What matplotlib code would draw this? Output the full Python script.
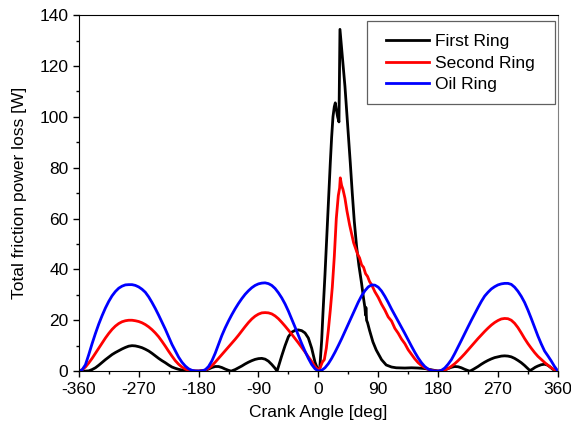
import matplotlib.pyplot as plt
from matplotlib.patches import Rectangle

plt.rcParams['font.family'] = ['Liberation Sans', 'DejaVu Sans']

# First ring (black)
first_angle = [-360, -350, -345, -340, -335, -330, -325, -320, -315, -310, -305, -300, -295, -290,
               -285, -280, -275, -270, -265, -260, -255, -250, -245, -240, -235, -230, -225, -220,
               -215, -210, -205, -200, -190, -180, -170, -165, -160, -155, -150, -145, -140, -135,
               -131, -125, -120, -115, -110, -105, -100, -95, -90, -85, -80, -75, -70, -65, -62,
               -58, -55, -50, -45, -40, -35, -30, -25, -20, -15, -10, -5, 0,
               2, 5, 7, 10, 12, 14, 16, 18, 20, 22, 24, 25.5, 27, 29, 31, 32.5,
               34, 36, 40, 44, 48, 51, 54, 57.5, 61, 65, 68, 70, 71, 71.5, 72.5, 74, 77, 82, 87,
               95, 102, 110, 117, 130, 140, 150, 160, 170, 180,
               185, 190, 195, 200, 205, 210, 215, 220, 225, 228, 233, 240, 245, 250, 255, 260, 265,
               270, 275, 280, 285, 290, 295, 300, 305, 310, 314, 318, 322, 326, 330, 335, 340, 344,
               348, 352, 355, 360]
first_power = [0, 0, 0.1, 0.6, 1.3, 2.3, 3.4, 4.5, 5.5, 6.5, 7.3, 8.0, 8.7, 9.3,
               9.8, 10.0, 9.9, 9.6, 9.2, 8.6, 7.9, 7.0, 6.0, 5.0, 4.1, 3.3, 2.4, 1.6,
               1.1, 0.7, 0.4, 0.2, 0, 0, 0.3, 0.8, 1.4, 1.8, 1.8, 1.4, 0.8, 0.3,
               0, 0.6, 1.3, 2.0, 2.8, 3.5, 4.1, 4.6, 4.9, 5.0, 4.7, 3.9, 2.6, 1.1, 0,
               3.5, 6.0, 10.0, 13.5, 15.3, 16.0, 16.2, 15.9, 15.0, 13.0, 9.0, 3.5, 0,
               0.5, 12, 23, 38, 49, 60, 71, 82, 92, 100, 104, 105.5, 103, 100, 98, 134.4,
               130, 124, 112, 97, 82, 70, 59, 49, 41.5, 34.5, 28.5, 25, 22, 25, 20, 19, 16, 11.5, 8.3,
               4.5, 2.4, 1.6, 1.3, 1.2, 1.3, 1.2, 1.0, 0.5, 0,
               0.1, 0.5, 1.0, 1.5, 1.8, 1.7, 1.3, 0.7, 0.2, 0, 0.7, 1.8, 2.7, 3.5, 4.2, 4.8, 5.3,
               5.6, 5.9, 6.0, 5.9, 5.6, 5.0, 4.2, 3.3, 2.2, 1.2, 0.2, 0.8, 1.5, 2.0, 2.5, 2.7, 2.4,
               1.7, 0.8, 0.3, 0]

# Second ring (red)
second_angle = [-360, -355, -350, -345, -340, -335, -330, -325, -320, -315, -310, -305, -300, -295,
                -290, -285, -280, -275, -270, -265, -260, -255, -250, -245, -240, -235, -230, -225,
                -220, -215, -210, -205, -200, -195, -190, -180,
                -175, -170, -165, -160, -155, -150, -145, -140, -135, -130, -125, -120, -115, -110,
                -105, -100, -95, -90, -85, -80, -75, -70, -65, -60, -55, -50, -45, -40, -35, -30,
                -25, -20, -15, -10, -5, 0,
                3, 6, 9, 12, 15, 18, 21, 24, 27, 30,
                32, 33, 35, 37, 40, 43, 47, 50, 53, 56, 59, 62, 65, 68, 71, 74, 77, 80, 85, 90, 95,
                100, 105, 110, 115, 120, 125, 130, 135, 140, 145, 150, 155, 160, 165, 170, 175, 180,
                185, 190, 195, 200, 205, 210, 215, 220, 225, 230, 235, 240, 245, 250, 255, 260, 265,
                270, 275, 280, 285, 290, 295, 300, 305, 310, 315, 320, 325, 330, 335, 340, 345, 350,
                355, 360]
second_power = [0, 0.5, 1.6, 3.2, 5.0, 7.0, 9.0, 11.0, 13.0, 14.8, 16.4, 17.7, 18.7, 19.4,
                19.8, 20.0, 20.0, 19.8, 19.5, 19.0, 18.3, 17.4, 16.3, 15.0, 13.5, 11.7, 9.8, 7.8,
                5.9, 4.1, 2.7, 1.6, 0.8, 0.3, 0.1, 0,
                0.1, 0.4, 1.1, 2.1, 3.5, 5.0, 6.5, 8.0, 9.5, 11.0, 12.5, 14.1, 15.8, 17.5,
                19.1, 20.5, 21.6, 22.4, 22.9, 23.0, 22.9, 22.5, 21.7, 20.6, 19.2, 17.7, 16.1, 14.5, 12.8, 11.1,
                9.3, 7.5, 5.6, 3.8, 1.8, 0.3,
                1.5, 3.5, 4.5, 9.0, 16.0, 24.0, 33.0, 45.0, 60.0, 69.0,
                72.0, 76.0, 73.0, 71.5, 68.0, 63.0, 57.5, 54.0, 50.5, 48.2, 46.0, 44.5, 41.8, 40.8, 38.3, 37.2, 35.2, 34.0, 31.2, 29.0, 26.3,
                24.0, 21.3, 19.7, 16.8, 14.9, 12.6, 10.8, 8.4, 6.6, 4.8, 3.3, 2.2, 1.4, 0.7, 0.3, 0.1, 0,
                0.1, 0.4, 1.0, 1.9, 2.9, 4.1, 5.4, 6.8, 8.3, 9.8, 11.3, 12.8, 14.2, 15.6, 16.9, 18.1, 19.1,
                19.9, 20.5, 20.7, 20.6, 20.0, 18.8, 17.1, 15.0, 12.8, 10.8, 9.0, 7.3, 5.8, 4.6, 3.4, 2.3, 1.3,
                0.5, 0]

# Oil ring (blue)
oil_angle = [-360, -355, -350, -345, -340, -335, -330, -325, -320, -315, -310, -305, -300, -295,
             -290, -285, -280, -275, -270, -265, -260, -255, -250, -245, -240, -235, -230, -225,
             -220, -215, -210, -205, -200, -195, -190, -185, -180,
             -175, -170, -165, -160, -155, -150, -145, -140, -135, -130, -125, -120, -115, -110,
             -105, -100, -95, -90, -85, -80, -75, -70, -65, -60, -55, -50, -45, -40, -35, -30,
             -25, -20, -15, -10, -5, 0,
             5, 10, 15, 20, 25, 30, 35, 40, 45, 50, 55, 60, 65, 70, 75, 80, 85, 90, 95, 100,
             105, 110, 115, 120, 125, 130, 135, 140, 145, 150, 155, 160, 165, 170, 175, 180,
             185, 190, 195, 200, 205, 210, 215, 220, 225, 230, 235, 240, 245, 250, 255, 260, 265,
             270, 275, 280, 285, 290, 295, 300, 305, 310, 315, 320, 325, 330, 335, 340, 345, 350,
             355, 360]
oil_power = [0, 0.5, 2.5, 6.5, 10.8, 14.8, 18.5, 21.8, 24.8, 27.4, 29.6, 31.3, 32.6, 33.4,
             33.9, 34.0, 34.0, 33.7, 33.1, 32.2, 31.0, 29.2, 27.0, 24.6, 22.0, 19.3, 16.5, 13.5,
             10.5, 8.0, 5.5, 3.5, 2.0, 0.9, 0.3, 0.05, 0,
             0.1, 0.5, 1.8, 4.0, 7.0, 10.5, 14.0, 17.0, 19.7, 22.2, 24.5, 26.6, 28.5, 30.2,
             31.6, 32.8, 33.7, 34.3, 34.6, 34.7, 34.4, 33.7, 32.5, 30.8, 28.8, 26.4, 23.6, 20.5, 17.3, 14.0,
             10.8, 7.8, 5.0, 2.6, 0.9, 0,
             0.3, 1.3, 2.9, 5.0, 7.4, 10.0, 12.7, 15.6, 18.5, 21.5, 24.4, 27.1, 29.6, 31.6, 33.1, 33.9, 33.8, 33.0, 31.5, 29.4,
             27.0, 24.4, 22.0, 19.6, 17.2, 14.8, 12.3, 9.8, 7.4, 5.2, 3.3, 1.8, 0.8, 0.2, 0.05, 0,
             0.3, 1.2, 2.7, 4.5, 6.9, 9.5, 12.1, 14.8, 17.4, 20.0, 22.5, 25.0, 27.4, 29.5, 31.0, 32.3, 33.2,
             33.9, 34.3, 34.5, 34.5, 34.1, 33.0, 31.4, 29.4, 27.0, 24.0, 20.7, 17.2, 13.8, 10.7, 7.9, 6.0, 4.0,
             1.8, 0]

x_ticks = [-360, -270, -180, -90, 0, 90, 180, 270, 360]
x_tick_labels = ['-360', '-270', '-180', '-90', '0', '90', '180', '270', '360']

fig = plt.figure(figsize=(5.71, 4.32), dpi=100)
ax = fig.add_axes([0.138, 0.141, 0.839, 0.824])

ax.plot(first_angle, first_power, color='black', lw=2.0, label='First Ring')
ax.plot(second_angle, second_power, color='#ff0000', lw=2.0, label='Second Ring')
ax.plot(oil_angle, oil_power, color='#0000ff', lw=2.0, label='Oil Ring')

ax.set_xlim(-360, 360)
ax.set_ylim(0, 140)
ax.set_xticks(x_ticks)
ax.set_xticklabels(x_tick_labels)
ax.set_xticks(range(-360, 361, 45), minor=True)
ax.set_yticks(range(0, 141, 20))
ax.set_yticks(range(0, 141, 10), minor=True)
ax.tick_params(axis='both', which='major', direction='out', length=4, width=1, labelsize=12.5,
               top=False, right=False)
ax.tick_params(axis='both', which='minor', direction='out', length=2.5, width=1,
               top=False, right=False)
ax.spines['right'].set_color('#808080')

ax.set_xlabel('Crank Angle [deg]', fontsize=12.5, labelpad=6)
ax.set_ylabel('Total friction power loss [W]', fontsize=12.5, labelpad=9)

# legend box drawn by hand, entries placed inside it
ax.add_patch(Rectangle((0.601, 0.750), 0.393, 0.233, transform=ax.transAxes, fill=False,
                       edgecolor='#606060', lw=0.9, zorder=5))
ax.legend(loc='upper left', bbox_to_anchor=(0.641, 0.946), fontsize=12.5, frameon=False,
          handlelength=2.5, handletextpad=0.35, borderpad=0, labelspacing=0.36,
          borderaxespad=0)

fig.savefig('out.png', dpi=100)
